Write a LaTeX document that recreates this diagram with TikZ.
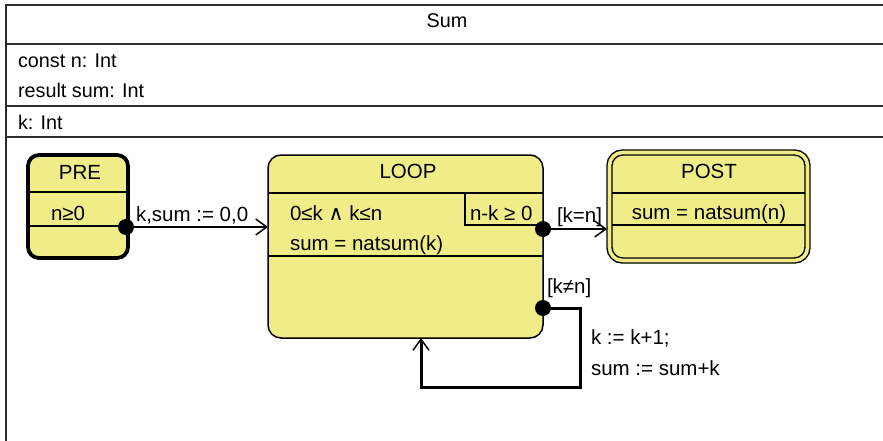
\documentclass[tikz,border=0pt]{standalone}
\usepackage{fontspec}
\setmainfont{Liberation Sans}
\newfontfamily\symfont{DejaVu Sans}
\usetikzlibrary{arrows.meta}
\definecolor{statefill}{RGB}{240,236,136}
\definecolor{framegray}{RGB}{45,45,45}

\begin{document}
\begin{tikzpicture}[x=1pt,y=-1pt,
  txt/.style={inner sep=0pt, outer sep=0pt, font=\fontsize{20.5}{24}\selectfont},
  hdr/.style={inner sep=0pt, outer sep=0pt, font=\fontsize{19.8}{23}\selectfont},
  lbl/.style={txt, anchor=base west},
  ctr/.style={txt, anchor=base},
  statebox/.style={draw=black, fill=statefill, line width=1.5pt, rounded corners=13pt,
                   inner sep=0pt, outer sep=0pt},
  sepline/.style={line width=1.2pt},
  frameline/.style={draw=framegray, line width=1.5pt},
  pseudo/.style={circle, fill=black, inner sep=0pt, outer sep=0pt, minimum size=16pt},
  trans/.style={line width=1.5pt, -{Straight Barb[length=11pt,width=16pt,line width=1.5pt]}},
  loopline/.style={line width=3pt, -{Straight Barb[length=11pt,width=16pt,line width=1.5pt]}},
]
\useasboundingbox (0,0) rectangle (883,441);

% class frame with its compartments
\draw[frameline] (883,5) -- (6,5) -- (6,441);
\draw[frameline] (6,44) -- (883,44);
\draw[frameline] (6,106) -- (883,106);
\draw[frameline] (6,137) -- (883,137);
\node[hdr, anchor=base] (title) at (447,28) {Sum};
\node[hdr, anchor=base west] (attn) at (18,68) {const n: Int};
\node[hdr, anchor=base west] (attsum) at (18,98) {result sum: Int};
\node[hdr, anchor=base west] (attk) at (18,129) {k: Int};

% PRE state
\node[statebox, line width=3.8pt, rounded corners=11pt, minimum width=100pt, minimum height=103pt]
  (pre) at (78,206.5) {};
\draw[sepline] (28,192) -- (128,192);
\draw[sepline] (28,226) -- (128,226);
\node[ctr] (pretitle) at (80,179) {PRE};
\node[lbl] (precond) at (51,220) {n≥0};

% LOOP state
\node[statebox, minimum width=275pt, minimum height=183pt] (loop) at (405.5,246.5) {};
\draw[sepline] (268,193) -- (543,193);
\draw[sepline] (268,256) -- (543,256);
\draw[sepline] (465,193) -- (465,225) -- (543,225);
\node[ctr] (looptitle) at (408,178) {LOOP};
\node[lbl] (inv1) at (290,220) {0≤k {\symfont∧} k≤n};
\node[lbl] (inv2) at (290,250) {sum = natsum(k)};
\node[lbl] (variant) at (470,220) {n-k ≥ 0};

% POST state (final, double border)
\node[statebox, line width=1.4pt, double=statefill, double distance=3.6pt,
      minimum width=198pt, minimum height=108pt] (post) at (708.5,206.5) {};
\draw[sepline] (612,193) -- (805,193);
\draw[sepline] (612,225) -- (805,225);
\node[ctr] (posttitle) at (709,178) {POST};
\node[ctr] (postcond) at (709,219) {sum = natsum(n)};

% transitions
\coordinate (loopin) at (268,227);
\coordinate (postin) at (607,229);
\node[pseudo] (d1) at (126,227) {};
\draw[trans] (d1.center) -- (loopin);
\node[lbl] (initlbl) at (136,221) {k,sum := 0,0};

\node[pseudo] (d2) at (543,229) {};
\draw[trans] (d2.center) -- (postin);
\node[lbl] (donelbl) at (557,222) {[k=n]};

\node[pseudo] (d3) at (543,308) {};
\coordinate (turn) at (580,387);
\coordinate (loopback) at (421,338);
\draw[loopline] (d3.center) -| (turn) -| (loopback);
\node[lbl] (againlbl) at (547,293) {[k≠n]};
\node[lbl] (step1) at (591,344) {k := k+1;};
\node[lbl] (step2) at (591,375) {sum := sum+k};
\end{tikzpicture}
\end{document}
